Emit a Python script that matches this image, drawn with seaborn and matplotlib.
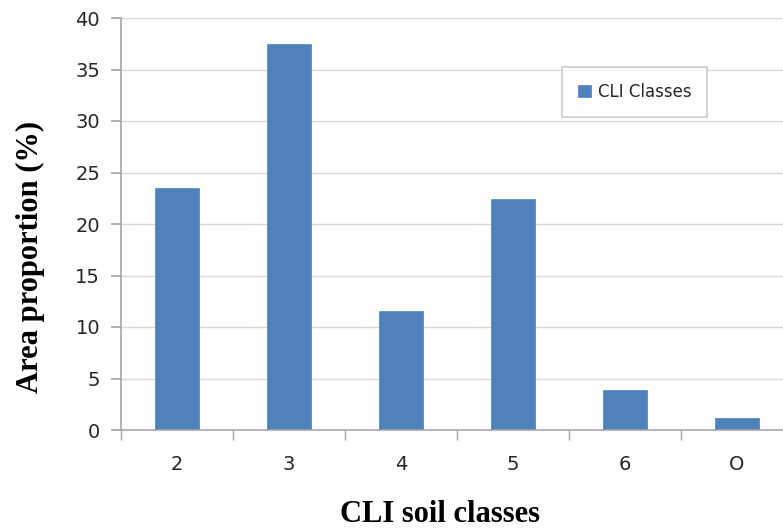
import matplotlib
matplotlib.use("Agg")
import matplotlib.pyplot as plt
import seaborn as sns
import numpy as np
import pandas as pd

categories = ["2", "3", "4", "5", "6", "O"]
values = [23.5, 37.5, 11.6, 22.4, 3.9, 1.2]
series_name = "CLI Classes"

df = pd.DataFrame({"cls": categories, "val": values, "series": series_name})

sns.set_theme(style="white")
fig = plt.figure(figsize=(7.83, 5.29), dpi=100)
ax = fig.add_axes([121/783, 99/529, 672/783, 412/529])

sns.barplot(data=df, x="cls", y="val", hue="series", palette=["#4F81BD"],
            width=0.4, ax=ax, saturation=1, edgecolor="#4F81BD", linewidth=0.5)

ax.set_ylim(0, 40)
ax.set_xlim(-0.5, 5.5)
ax.set_yticks(np.arange(0, 41, 5))
ax.yaxis.grid(True, color="#D9D9D9", linewidth=1)
ax.set_axisbelow(True)
for s in ["top", "right"]:
    ax.spines[s].set_visible(False)
for s in ["left", "bottom"]:
    ax.spines[s].set_color("#A6A6A6")
    ax.spines[s].set_linewidth(1.2)

ax.tick_params(axis="y", which="major", left=True, length=7, color="#A6A6A6",
               labelsize=14, pad=8, labelcolor="#262626")
ax.tick_params(axis="x", which="major", bottom=False, labelsize=14, pad=12,
               labelcolor="#262626")
ax.set_xticks(np.arange(-0.5, 6, 1), minor=True)
ax.tick_params(axis="x", which="minor", bottom=True, length=7, color="#A6A6A6")

ax.set_xlabel("CLI soil classes", fontfamily="Liberation Serif", fontweight="bold",
              fontsize=22, color="black", va="center", ha="center")
ax.set_ylabel("Area proportion (%)", fontfamily="Liberation Serif", fontweight="bold",
              fontsize=22, color="black", va="center", ha="center")
ax.xaxis.set_label_coords((440-121)/672, (430-515)/412)
ax.yaxis.set_label_coords((30-121)/672, (430-257)/412)

leg = ax.legend(loc="upper left", bbox_to_anchor=((562-121)/672, (430-67)/412),
                frameon=True, fancybox=False, fontsize=12, handlelength=0.8,
                handleheight=0.8, borderpad=0.95, handletextpad=0.4,
                borderaxespad=0)
leg.get_frame().set_edgecolor("#BFBFBF")
leg.get_frame().set_linewidth(1.2)
for t in leg.get_texts():
    t.set_color("#262626")
leg._legend_box.align = "left"
leg.set_bbox_to_anchor(((562-121)/672, (430-67)/412))

fig.savefig("out.png", dpi=100)
